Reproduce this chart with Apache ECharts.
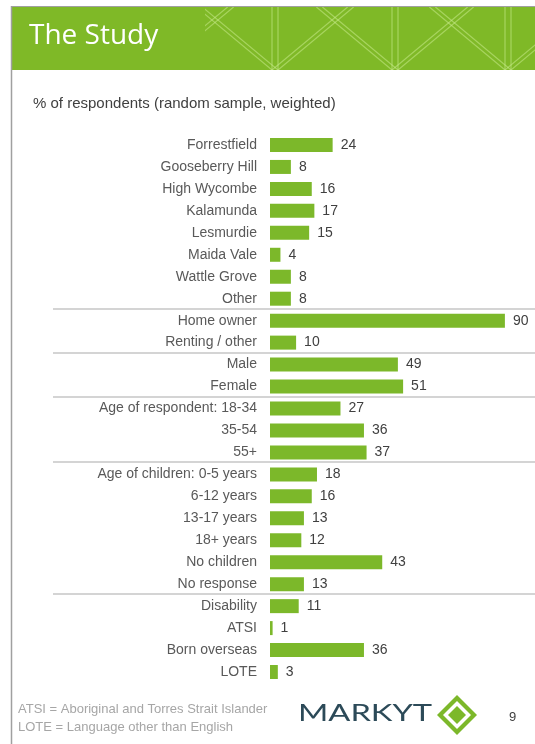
<!DOCTYPE html>
<html>
<head>
<meta charset="utf-8">
<script src="https://cdn.jsdelivr.net/npm/echarts@6/dist/echarts.min.js"></script>
<style>
html,body{margin:0;padding:0;background:#fff;}
#c{width:535px;height:744px;}
</style>
</head>
<body>
<div id="c"></div>
<script>
const categories = ['Forrestfield','Gooseberry Hill','High Wycombe','Kalamunda','Lesmurdie','Maida Vale','Wattle Grove','Other',
  'Home owner','Renting / other','Male','Female','Age of respondent: 18-34','35-54','55+',
  'Age of children: 0-5 years','6-12 years','13-17 years','18+ years','No children','No response',
  'Disability','ATSI','Born overseas','LOTE'];
const values = [24,8,16,17,15,4,8,8,90,10,49,51,27,36,37,18,16,13,12,43,13,11,1,36,3];
const groupEnds = [7,9,11,14,20];
const titleText = 'The Study';
const subtitleText = '% of respondents (random sample, weighted)';
const footnotes = ['ATSI = Aboriginal and Torres Strait Islander','LOTE = Language other than English'];
const pageNumber = '9';

const FONT = '"Liberation Sans", Arial, sans-serif';
const GREEN = '#7cb82a';

const chart = echarts.init(document.getElementById('c'), null, {renderer:'canvas'});

// header pattern lines
const pat = [];
const pcol = 'rgba(200,235,140,0.55)';
function pl(x1,y1,x2,y2){ pat.push({type:'line', silent:true, z:2, shape:{x1,y1,x2,y2}, style:{stroke:pcol, lineWidth:1.2}}); }
[272,392,505].forEach(v => { pl(v,7,v,70); pl(v+6,7,v+6,70); });
[152,272,392,505].forEach(b => {
  [0,6].forEach(o => {
    pl(b+o,70,b+o+75.6,7);
    pl(b+o,70,b+o-75.6,7);
  });
});

const dc = [457, 715];
function diamond(r){ return [[dc[0],dc[1]-r],[dc[0]+r,dc[1]],[dc[0],dc[1]+r],[dc[0]-r,dc[1]]]; }

const base = [
  {type:'rect', z:1, shape:{x:12,y:7,width:523,height:63}, style:{fill:'#7fb927'}},
  {type:'group', z:2, children: pat, clipPath:{type:'rect', shape:{x:205,y:7,width:330,height:63}}},
  {type:'line', z:3, shape:{x1:11,y1:6.5,x2:535,y2:6.5}, style:{stroke:'#a0a0a0', lineWidth:1}},
  {type:'line', z:3, shape:{x1:11.5,y1:6,x2:11.5,y2:744}, style:{stroke:'#a0a0a0', lineWidth:1.5}},
  {type:'text', z:4, left:29, top:22, style:{text:titleText, fill:'#ffffff', font:'28px "Open Sans", sans-serif'}},
  {type:'text', z:4, left:33, top:96, style:{text:subtitleText, fill:'#404040', font:'15px '+FONT}},
  {type:'text', z:4, left:18, top:703, style:{text:footnotes[0], fill:'#a6a6a6', font:'13px '+FONT}},
  {type:'text', z:4, left:18, top:721, style:{text:footnotes[1], fill:'#a6a6a6', font:'13px '+FONT}},
  {type:'text', z:4, x:298, y:701, scaleX:1.36, style:{text:'MARKYT', fill:'#2c4a58', font:'24px Lato, sans-serif'}},
  {type:'polygon', z:4, shape:{points:diamond(20)}, style:{fill:'#7cb82a'}},
  {type:'polygon', z:5, shape:{points:diamond(14)}, style:{fill:'#ffffff'}},
  {type:'polygon', z:6, shape:{points:diamond(9)}, style:{fill:'#7cb82a'}},
  {type:'text', z:4, left:509, top:711, style:{text:pageNumber, fill:'#404040', font:'13px '+FONT}}
];
base.forEach((g,i)=>{ g.id='b'+i; });

chart.setOption({
  animation:false,
  backgroundColor:'#ffffff',
  grid:{left:270, width:261, top:134, height:549, containLabel:false},
  xAxis:{type:'value', min:0, max:100, show:false},
  yAxis:{type:'category', inverse:true, data:categories,
    axisLine:{show:false}, axisTick:{show:false}, splitLine:{show:false},
    axisLabel:{fontSize:14, color:'#595959', fontFamily:FONT, margin:13}},
  series:[{type:'bar', data:values, barWidth:14, itemStyle:{color:GREEN},
    label:{show:true, position:'right', distance:8, color:'#404040', fontSize:14, fontFamily:FONT}}],
  graphic: base
});

const seps = groupEnds.map((idx,i) => {
  const y1 = chart.convertToPixel({yAxisIndex:0}, categories[idx]);
  const y2 = chart.convertToPixel({yAxisIndex:0}, categories[idx+1]);
  const y = Math.round((y1+y2)/2) - 1;
  return {id:'sep'+i, type:'line', z:3, shape:{x1:53,y1:y,x2:535,y2:y}, style:{stroke:'#d4d4d4', lineWidth:2}};
});
chart.setOption({graphic: base.concat(seps)});
</script>
</body>
</html>
